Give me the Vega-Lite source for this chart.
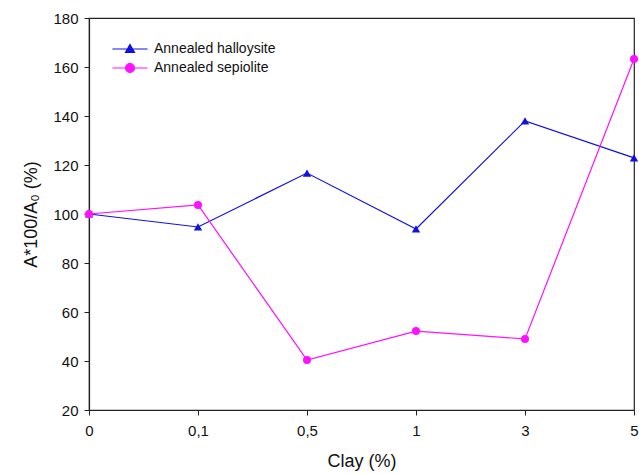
{
  "$schema": "https://vega.github.io/schema/vega-lite/v6.json",
  "width": 545,
  "height": 392,
  "autosize": "none",
  "padding": {"left": 89, "top": 18, "right": 5, "bottom": 64},
  "background": "white",
  "config": {
    "font": "Liberation Sans",
    "view": {"stroke": "#222", "strokeWidth": 1.2},
    "axis": {"grid": false, "domainColor": "#222", "tickColor": "#222", "labelColor": "#111", "titleColor": "#111", "labelFont": "Liberation Sans", "titleFont": "Liberation Sans", "titleFontWeight": "normal"}
  },
  "data": {
    "values": [
      {"clay": "0", "series": "Annealed halloysite", "value": 100},
      {"clay": "0,1", "series": "Annealed halloysite", "value": 94.7},
      {"clay": "0,5", "series": "Annealed halloysite", "value": 116.7},
      {"clay": "1", "series": "Annealed halloysite", "value": 93.9},
      {"clay": "3", "series": "Annealed halloysite", "value": 138},
      {"clay": "5", "series": "Annealed halloysite", "value": 122.9},
      {"clay": "0", "series": "Annealed sepiolite", "value": 100},
      {"clay": "0,1", "series": "Annealed sepiolite", "value": 103.7},
      {"clay": "0,5", "series": "Annealed sepiolite", "value": 40.4},
      {"clay": "1", "series": "Annealed sepiolite", "value": 52.2},
      {"clay": "3", "series": "Annealed sepiolite", "value": 49},
      {"clay": "5", "series": "Annealed sepiolite", "value": 163.3}
    ]
  },
  "encoding": {
    "x": {
      "field": "clay", "type": "ordinal",
      "sort": ["0", "0,1", "0,5", "1", "3", "5"],
      "scale": {"type": "point", "padding": 0},
      "axis": {"title": "Clay (%)", "labelAngle": 0, "labelFontSize": 15, "titleFontSize": 18, "tickSize": 5, "labelPadding": 8, "titlePadding": 14, "domainWidth": 1.2}
    },
    "y": {
      "field": "value", "type": "quantitative",
      "scale": {"domain": [20, 180], "nice": false, "zero": false},
      "axis": {"title": "A*100/A₀ (%)", "values": [20, 40, 60, 80, 100, 120, 140, 160, 180], "labelFontSize": 15, "titleFontSize": 18, "tickSize": 5, "labelPadding": 6, "titlePadding": 12, "domainWidth": 1.2}
    },
    "color": {
      "field": "series", "type": "nominal",
      "scale": {"domain": ["Annealed halloysite", "Annealed sepiolite"], "range": ["#1010e0", "#ff10ff"]},
      "legend": {
        "title": null,
        "orient": "none",
        "legendX": 20,
        "legendY": 24,
        "symbolSize": 81,
        "symbolOffset": 14,
        "labelOffset": 17,
        "labelFontSize": 14,
        "labelColor": "#111",
        "labelFont": "Liberation Sans",
        "rowPadding": 5,
        "symbolOpacity": 1,
        "encode": {
          "symbols": {
            "update": {
              "shape": {"signal": "datum.label === 'Annealed halloysite' ? 'M-3.9,0H3.9M0,-1L1,0.75L-1,0.75Z' : 'M-3.9,0H3.9M1,0A1,1,0,1,1,-1,0A1,1,0,1,1,1,0Z'"},
              "strokeWidth": {"value": 1.2},
              "stroke": {"signal": "datum.label === 'Annealed halloysite' ? '#1010e0' : '#ff10ff'"},
              "fill": {"signal": "datum.label === 'Annealed halloysite' ? '#1010e0' : '#ff10ff'"},
              "opacity": {"value": 1}
            }
          }
        }
      }
    }
  },
  "layer": [
    {
      "mark": {"type": "line", "strokeWidth": 1.2}
    },
    {
      "transform": [{"filter": "datum.series === 'Annealed halloysite'"}],
      "mark": {"type": "point", "filled": true, "opacity": 1, "shape": "triangle-up", "size": 70}
    },
    {
      "transform": [{"filter": "datum.series === 'Annealed sepiolite'"}],
      "mark": {"type": "point", "filled": true, "opacity": 1, "shape": "circle", "size": 64}
    }
  ]
}
